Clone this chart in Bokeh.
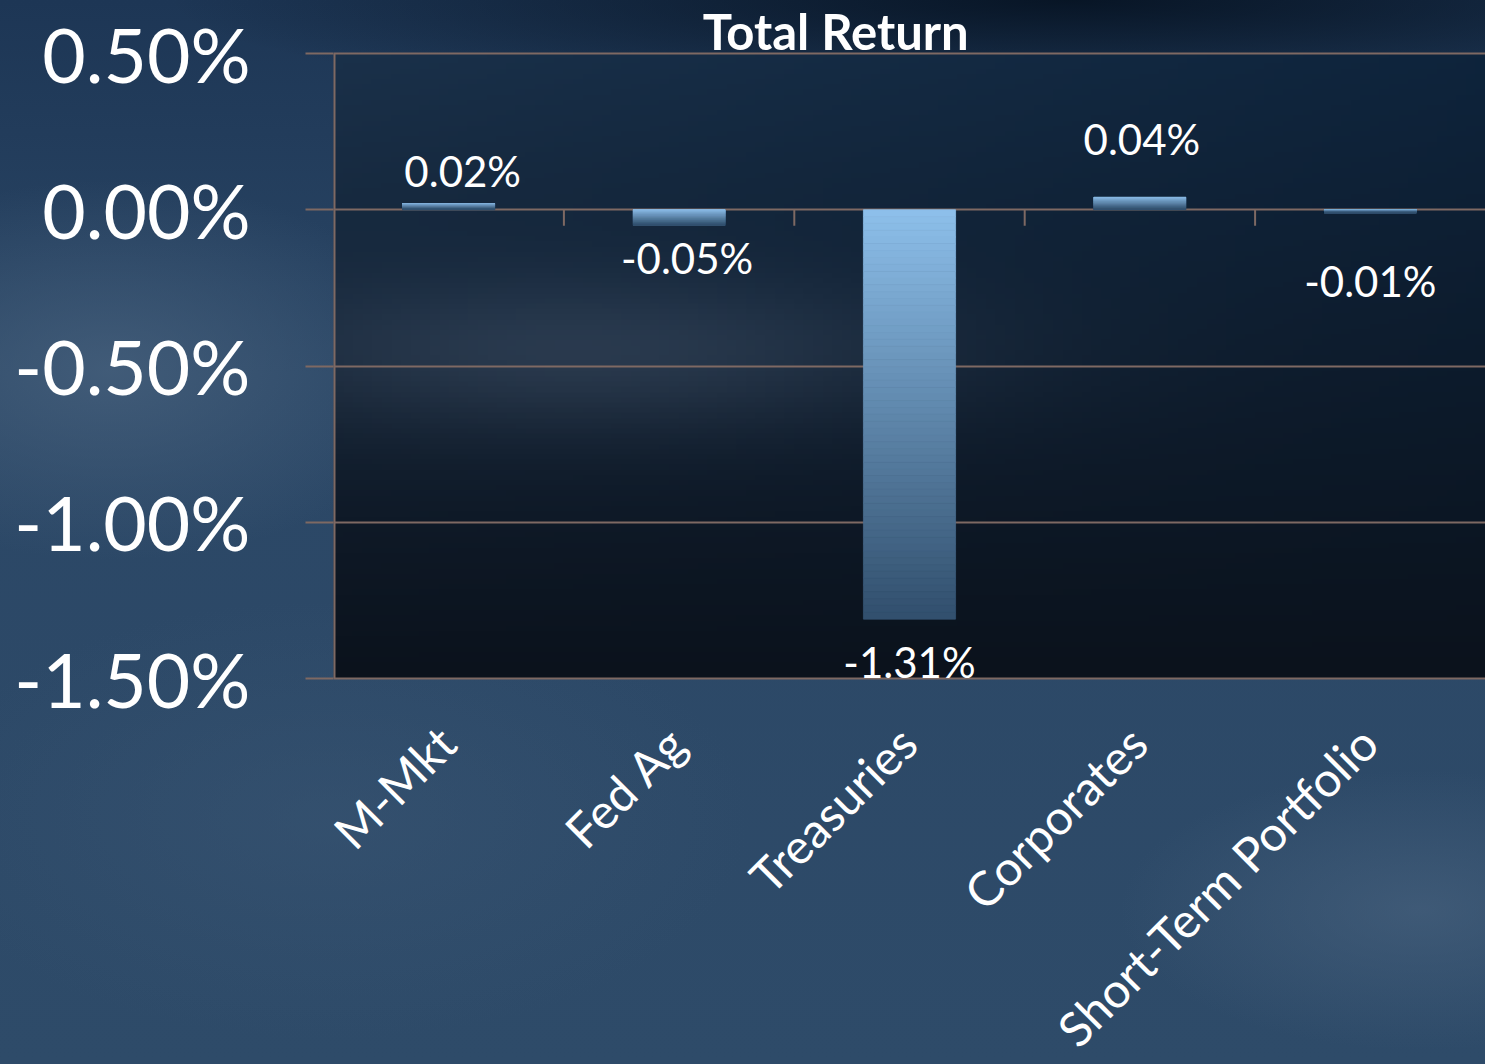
import math
import numpy as np
from bokeh.plotting import figure
from bokeh.models import FixedTicker, Label, ColumnDataSource
from bokeh.core.properties import value
from bokeh.embed import file_html
from bokeh.resources import INLINE

categories = ["M-Mkt", "Fed Ag", "Treasuries", "Corporates", "Short-Term Portfolio"]
returns = [0.02, -0.05, -1.31, 0.04, -0.01]
value_labels = ["0.02%", "-0.05%", "-1.31%", "0.04%", "-0.01%"]
y_ticks = [0.5, 0.0, -0.5, -1.0, -1.5]
y_tick_labels = ["0.50%", "0.00%", "-0.50%", "-1.00%", "-1.50%"]
chart_title = "Total Return"

# label nudges in pixels (style only, as placed in the original)
label_dx = [14, 8, 0, 2, 0]
label_dy = [0, 0, 10, -25, 35]

FONT = "Lato"
GRID = "#7e6963"
BAR_TOP = np.array([141, 191, 234])
BAR_BOTTOM = np.array([50, 80, 110])
BAR_WIDTH = 0.4
Y_MIN, Y_MAX = -1.5, 0.5
PX = 312.5                # pixels per 1% on the value scale
PAD_TOP = 53 / PX         # room above the plot area for the title
PAD_BOTTOM = 386 / PX     # room below the plot area for category labels

n = len(categories)
centers = [i + 0.5 for i in range(n)]

p = figure(width=1485, height=1064, x_range=(0, n),
           y_range=(Y_MIN - PAD_BOTTOM, Y_MAX + PAD_TOP),
           output_backend="svg", toolbar_location=None,
           min_border_left=333, min_border_right=0, min_border_top=0, min_border_bottom=0)
p.border_fill_alpha = 0
p.background_fill_alpha = 0
p.outline_line_color = None
p.styles = {"background": (
    "radial-gradient(ellipse 900px 110px at 72% 0px, rgba(7,20,36,0.97) 0%, rgba(7,20,36,0) 100%), "
    "radial-gradient(ellipse 330px 190px at 110px 370px, rgba(72,98,126,0.75) 0%, rgba(72,98,126,0) 100%), "
    "radial-gradient(ellipse 300px 140px at 1420px 910px, rgba(74,100,128,0.6) 0%, rgba(74,100,128,0) 100%), "
    "radial-gradient(ellipse 420px 220px at 330px 820px, rgba(58,86,116,0.5) 0%, rgba(58,86,116,0) 100%), "
    "linear-gradient(180deg, #1d3655 0%, #2b4766 35%, #2e4b69 100%)")}

# plot-area background gradient (style only)
H, W = 120, 120
yy = np.linspace(0, 1, H)[:, None]  # 0 bottom, 1 top
xx = np.linspace(0, 1, W)[None, :]
top_c = np.array([14, 36, 60])
bot_c = np.array([11, 18, 28])
base = bot_c[None, None, :] * (1 - yy[..., None]) + top_c[None, None, :] * yy[..., None]
streak = 24 * np.exp(-((xx - 0.22) ** 2) / (2 * 0.22 ** 2) - ((yy - 0.52) ** 2) / (2 * 0.09 ** 2))
corner = 12 * (1 - xx) * yy
rgb = base + (streak + corner)[..., None] * np.array([1.0, 1.05, 1.15])[None, None, :]
rgb = np.clip(rgb, 0, 255).astype(np.uint32)
img = (255 << 24) | (rgb[..., 2] << 16) | (rgb[..., 1] << 8) | rgb[..., 0]
bg = p.image_rgba(image=[img.astype(np.uint32)], x=0, y=Y_MIN, dw=n, dh=Y_MAX - Y_MIN)
bg.level = "image"

# bars drawn as gradient slices
N = 60
lefts, rights, tops, bottoms, colors = [], [], [], [], []
for c, v in zip(centers, returns):
    hi, lo = max(v, 0.0), min(v, 0.0)
    edges = np.linspace(hi, lo, N + 1)
    for k in range(N):
        t = k / (N - 1)
        col = (BAR_TOP * (1 - t) + BAR_BOTTOM * t).astype(int)
        lefts.append(c - BAR_WIDTH / 2)
        rights.append(c + BAR_WIDTH / 2)
        tops.append(edges[k])
        bottoms.append(edges[k + 1])
        colors.append("#%02x%02x%02x" % tuple(col))
p.quad(left=lefts, right=rights, top=tops, bottom=bottoms, fill_color=colors,
       line_color=colors, line_width=0.8)

# value axis line (limited to the value range)
p.segment(x0=[0], y0=[Y_MIN], x1=[0], y1=[Y_MAX], line_color=GRID, line_width=4)

# category boundary ticks on the zero line
p.ray(x=list(range(1, n)), y=[0] * (n - 1), length=16, length_units="screen",
      angle=-math.pi / 2, line_color=GRID, line_width=2)

# data labels
src = ColumnDataSource(dict(
    x=centers, y=returns, t=value_labels,
    base=["bottom" if v >= 0 else "top" for v in returns],
    yoff=[(-8 if v >= 0 else 8) + d for v, d in zip(returns, label_dy)],
    xoff=label_dx,
))
p.text(x="x", y="y", text="t", source=src, text_align="center", text_baseline="base",
       x_offset="xoff", y_offset="yoff", text_color="white", text_font=value(FONT),
       text_font_size="42px")

# category labels, slanted, under the plot area
cat_src = ColumnDataSource(dict(x=centers, y=[Y_MIN] * n, t=categories))
p.text(x="x", y="y", text="t", source=cat_src, angle=math.pi / 4, text_align="right",
       text_baseline="middle", x_offset=-2, y_offset=56, text_color="white",
       text_font=value(FONT), text_font_size="48px")

# title
p.add_layout(Label(x=2.18, y=Y_MAX + 23 / PX, text=chart_title, text_align="center",
                   text_baseline="alphabetic", text_color="white", text_font=FONT,
                   text_font_size="49px", text_font_style="bold"))

# grid
p.xgrid.visible = False
p.ygrid.ticker = FixedTicker(ticks=y_ticks)
p.ygrid.grid_line_color = GRID
p.ygrid.grid_line_width = 2

# y axis
ya = p.yaxis[0]
ya.ticker = FixedTicker(ticks=y_ticks)
ya.major_label_overrides = {t: l for t, l in zip(y_ticks, y_tick_labels)}
ya.axis_line_color = None
ya.major_tick_line_color = GRID
ya.major_tick_line_width = 2
ya.major_tick_out = 28
ya.major_tick_in = 0
ya.minor_tick_line_color = None
ya.major_label_standoff = 55
ya.major_label_text_font = FONT
ya.major_label_text_font_size = "75px"
ya.major_label_text_color = "white"

p.xaxis.visible = False

open("out.html", "w").write(file_html(p, INLINE))
